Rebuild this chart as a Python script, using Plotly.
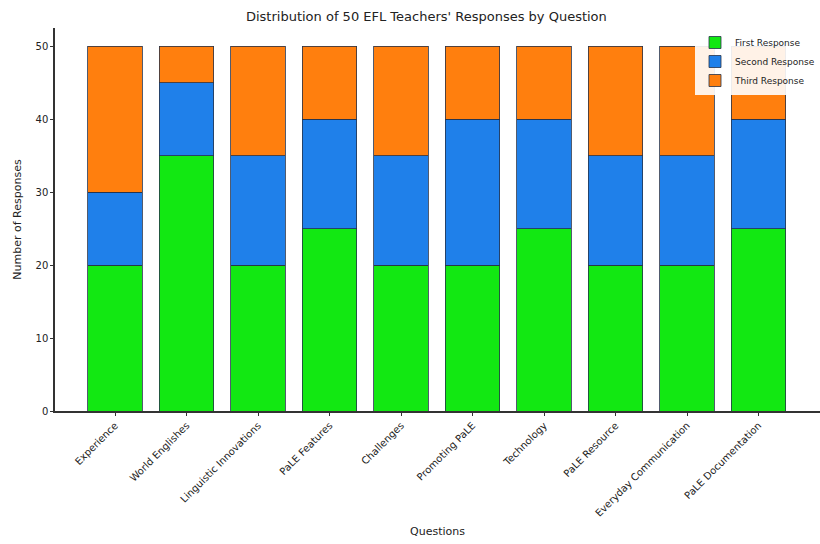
import plotly.graph_objects as go

questions = ["Experience", "World Englishes", "Linguistic Innovations", "PaLE Features",
             "Challenges", "Promoting PaLE", "Technology", "PaLE Resource",
             "Everyday Communication", "PaLE Documentation"]
first_response = [20, 35, 20, 25, 20, 20, 25, 20, 20, 25]
second_response = [10, 10, 15, 15, 15, 20, 15, 15, 15, 15]
third_response = [20, 5, 15, 10, 15, 10, 10, 15, 15, 10]
y_ticks = [0, 10, 20, 30, 40, 50]

fig = go.Figure()
series = [("First Response", first_response, "#12e812"),
          ("Second Response", second_response, "#1f80ea"),
          ("Third Response", third_response, "#ff7f0e")]
for name, vals, col in series:
    fig.add_trace(go.Bar(
        x=list(range(len(questions))), y=vals, name=name,
        marker=dict(color=col, line=dict(color="#26324a", width=0.8)),
        width=0.76,
    ))

fig.update_layout(
    barmode="stack",
    width=820, height=544,
    margin=dict(l=55, r=0, t=28, b=133),
    plot_bgcolor="white", paper_bgcolor="white",
    font=dict(family="DejaVu Sans", color="#222222"),
    title=dict(text="Distribution of 50 EFL Teachers' Responses by Question",
               x=0.52, xanchor="center", y=0.97, yanchor="middle",
               font=dict(size=13)),
    legend=dict(x=1.0, y=1.0, xanchor="right", yanchor="top",
                bgcolor="rgba(255,255,255,0.9)", font=dict(size=9),
                traceorder="normal", itemwidth=30, tracegroupgap=0),
    xaxis=dict(
        tickmode="array", tickvals=list(range(len(questions))), ticktext=questions,
        tickangle=-45, range=[-0.84, 9.86], showgrid=False,
        showline=True, linecolor="#333333", linewidth=1.5,
        ticks="outside", ticklen=3, tickcolor="#333333",
        tickfont=dict(size=10),
        title=dict(text="Questions", font=dict(size=11), standoff=10),
    ),
    yaxis=dict(
        range=[0, 52.5], tickvals=y_ticks, showgrid=False, zeroline=False,
        showline=True, linecolor="#333333", linewidth=1.5,
        ticks="outside", ticklen=3, tickcolor="#333333",
        tickfont=dict(size=10),
        title=dict(text="Number of Responses", font=dict(size=11), standoff=12),
    ),
)

fig.write_html("out.html")
